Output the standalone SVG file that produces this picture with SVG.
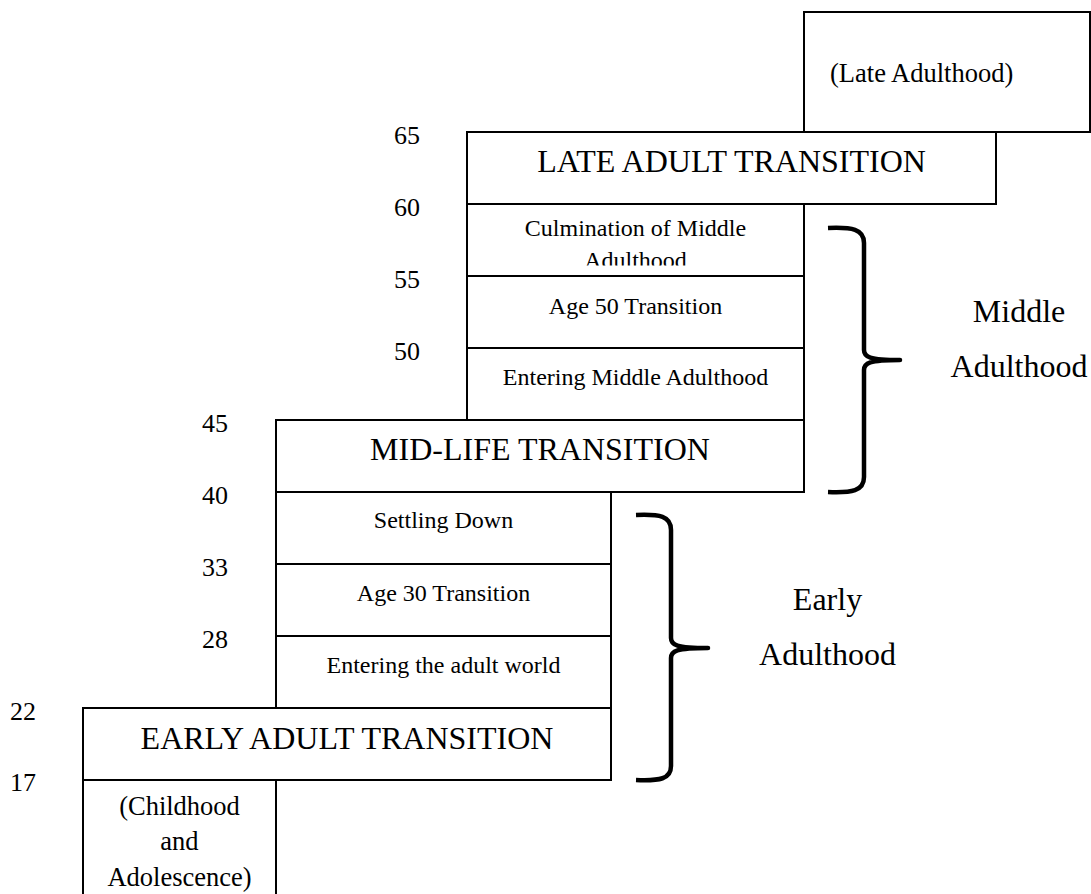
<svg xmlns="http://www.w3.org/2000/svg" width="1091" height="894" viewBox="0 0 1091 894">
<style>
.box{fill:#fff;stroke:#000;stroke-width:2}
.t{font-family:'Liberation Serif','Tinos','Times New Roman','DejaVu Serif',serif;fill:#000;text-anchor:middle}
.big{font-size:32px}
.mid{font-size:24px}
.lbl{font-size:26.5px}
.num{font-family:'Liberation Serif','Tinos','Times New Roman','DejaVu Serif',serif;fill:#000;font-size:26px}
.brace{fill:none;stroke:#000;stroke-width:4.5;stroke-linejoin:round;stroke-linecap:butt}
</style>
<defs>
<clipPath id="clipCulm"><rect x="467" y="204" width="337" height="61.5"/></clipPath>
</defs>
<rect width="1091" height="894" fill="#fff"/>

<g id="late-adulthood">
<rect class="box" x="804" y="12" width="286" height="120"/>
<text class="t lbl" x="830" y="82" style="text-anchor:start">(Late Adulthood)</text>
</g>
<g id="late-adult-transition">
<rect class="box" x="467" y="132" width="529" height="72"/>
<text class="t big" x="731.5" y="172">LATE ADULT TRANSITION</text>
</g>
<g id="culmination">
<rect class="box" x="467" y="204" width="337" height="72"/>
<g clip-path="url(#clipCulm)">
<text class="t mid" x="635.5" y="236">Culmination of Middle</text>
<text class="t mid" x="635.5" y="268">Adulthood</text>
</g>
</g>
<g id="age50">
<rect class="box" x="467" y="276" width="337" height="72"/>
<text class="t mid" x="635.5" y="314">Age 50 Transition</text>
</g>
<g id="entering-middle">
<rect class="box" x="467" y="348" width="337" height="72"/>
<text class="t mid" x="635.5" y="385">Entering Middle Adulthood</text>
</g>
<g id="mid-life-transition">
<rect class="box" x="276" y="420" width="528" height="72"/>
<text class="t big" x="540" y="460">MID-LIFE TRANSITION</text>
</g>
<g id="settling-down">
<rect class="box" x="276" y="492" width="335" height="72"/>
<text class="t mid" x="443.5" y="528">Settling Down</text>
</g>
<g id="age30">
<rect class="box" x="276" y="564" width="335" height="72"/>
<text class="t mid" x="443.5" y="601">Age 30 Transition</text>
</g>
<g id="entering-adult-world">
<rect class="box" x="276" y="636" width="335" height="72"/>
<text class="t mid" x="443.5" y="673">Entering the adult world</text>
</g>
<g id="early-adult-transition">
<rect class="box" x="83" y="708" width="528" height="72"/>
<text class="t big" x="347" y="749">EARLY ADULT TRANSITION</text>
</g>
<g id="childhood">
<rect class="box" x="83" y="780" width="193" height="130"/>
<text class="t lbl" x="179.5" y="815">(Childhood</text>
<text class="t lbl" x="179.5" y="850">and</text>
<text class="t lbl" x="179.5" y="886">Adolescence)</text>
</g>

<g id="ages">
<text class="num" x="394" y="143.5">65</text>
<text class="num" x="394" y="215.5">60</text>
<text class="num" x="394" y="287.5">55</text>
<text class="num" x="394" y="359.5">50</text>
<text class="num" x="202" y="431.5">45</text>
<text class="num" x="202" y="503.5">40</text>
<text class="num" x="202" y="575.5">33</text>
<text class="num" x="202" y="647.5">28</text>
<text class="num" x="10" y="719.5">22</text>
<text class="num" x="10" y="791">17</text>
</g>

<g id="connectors">
<path class="brace" d="M828,228 C852,227 864,229 864,243 L864,350 C864,357 869,360 900,360 C869,360 864,363 864,370 L864,477 C864,491 852,493 828,492"/>
<path class="brace" d="M636,515 C660,514 671,516 671,530 L671,638 C671,645 676,648 708,648 C676,648 671,651 671,658 L671,766 C671,779 660,781 636,780"/>
</g>

<g id="middle-adulthood-label">
<text class="t big" x="1019" y="322">Middle</text>
<text class="t big" x="1019" y="377">Adulthood</text>
</g>
<g id="early-adulthood-label">
<text class="t big" x="827.5" y="610">Early</text>
<text class="t big" x="827.5" y="665">Adulthood</text>
</g>
</svg>
